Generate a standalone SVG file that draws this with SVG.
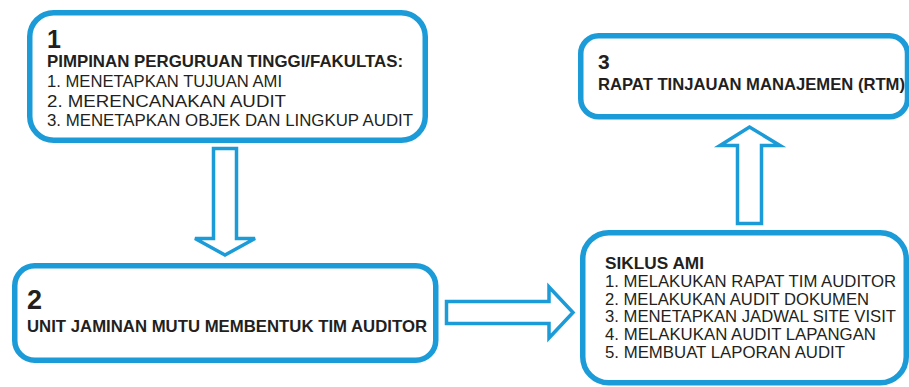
<svg xmlns="http://www.w3.org/2000/svg" width="909" height="387" viewBox="0 0 909 387">
<style>
.box{fill:#fff;stroke:#1b9bd7;stroke-width:5.5}
.arr{fill:#fff;stroke:#1b9bd7;stroke-width:3.5;stroke-linejoin:miter}
text{font-family:"Liberation Sans",Arial,sans-serif;fill:#231f20}
.num{font-weight:bold}
.hd{font-weight:bold;font-size:16.5px}
.it{font-size:16.5px}
</style>
<rect width="909" height="387" fill="#fff"/>
<g id="connectors">
<polygon class="arr" points="213.5,148.5 236.5,148.5 236.5,238.5 255,238.5 225,255 195,238.5 213.5,238.5"/>
<polygon class="arr" points="446.5,301.5 549,301.5 549,287 573,312.5 549,338 549,323.5 446.5,323.5"/>
<polygon class="arr" points="737.5,223.5 761.5,223.5 761.5,145.5 780,145.5 749.5,127 720,145.5 737.5,145.5"/>
</g>
<g id="node1">
<rect class="box" x="29.75" y="12.75" width="395.5" height="127.5" rx="24"/>
<text class="num" x="47" y="48" font-size="25">1</text>
<text class="hd" x="47" y="67" textLength="356" lengthAdjust="spacingAndGlyphs">PIMPINAN PERGURUAN TINGGI/FAKULTAS:</text>
<text class="it" x="47" y="87" textLength="235" lengthAdjust="spacingAndGlyphs">1. MENETAPKAN TUJUAN AMI</text>
<text class="it" x="47" y="106.5" textLength="239" lengthAdjust="spacingAndGlyphs">2. MERENCANAKAN AUDIT</text>
<text class="it" x="47" y="126" textLength="366" lengthAdjust="spacingAndGlyphs">3. MENETAPKAN OBJEK DAN LINGKUP AUDIT</text>
</g>
<g id="node2">
<rect class="box" x="14.75" y="265.75" width="421" height="94.5" rx="20"/>
<text class="num" x="27" y="309" font-size="27">2</text>
<text class="hd" x="27" y="332" textLength="400" lengthAdjust="spacingAndGlyphs">UNIT JAMINAN MUTU MEMBENTUK TIM AUDITOR</text>
</g>
<g id="node3">
<rect class="box" x="580.75" y="35.75" width="326.75" height="81" rx="18"/>
<text class="num" x="598" y="69" font-size="21">3</text>
<text class="hd" x="598" y="90" textLength="307" lengthAdjust="spacingAndGlyphs">RAPAT TINJAUAN MANAJEMEN (RTM)</text>
</g>
<g id="node4">
<rect class="box" x="582.75" y="232.75" width="323.5" height="150" rx="26"/>
<text class="hd" x="605" y="269" textLength="99" lengthAdjust="spacingAndGlyphs">SIKLUS AMI</text>
<text class="it" x="605" y="287" textLength="291" lengthAdjust="spacingAndGlyphs">1. MELAKUKAN RAPAT TIM AUDITOR</text>
<text class="it" x="605" y="304.5" textLength="264" lengthAdjust="spacingAndGlyphs">2. MELAKUKAN AUDIT DOKUMEN</text>
<text class="it" x="605" y="322" textLength="291" lengthAdjust="spacingAndGlyphs">3. MENETAPKAN JADWAL SITE VISIT</text>
<text class="it" x="605" y="340" textLength="271" lengthAdjust="spacingAndGlyphs">4. MELAKUKAN AUDIT LAPANGAN</text>
<text class="it" x="605" y="357.5" textLength="240" lengthAdjust="spacingAndGlyphs">5. MEMBUAT LAPORAN AUDIT</text>
</g>
</svg>
